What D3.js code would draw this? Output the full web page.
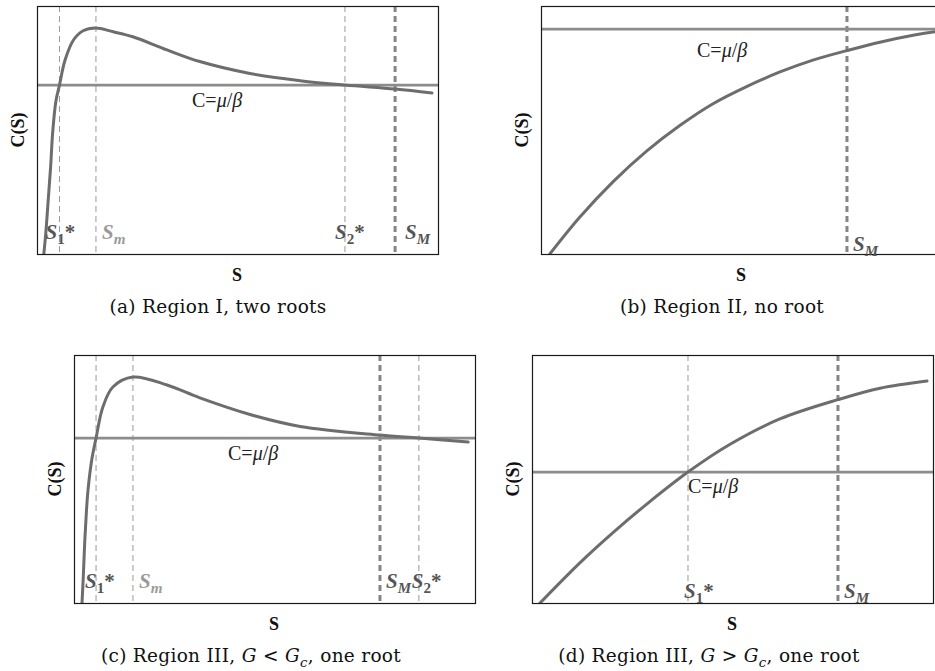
<!DOCTYPE html>
<html>
<head>
<meta charset="utf-8">
<script src="https://cdn.jsdelivr.net/npm/d3@7"></script>
<style>
  body { margin: 0; background: #fff; }
  text { font-family: "Liberation Serif", "Times New Roman", serif; }
  .caption { font-family: "DejaVu Serif", serif; letter-spacing: 0.3px; }
</style>
</head>
<body>
<svg id="chart" width="935" height="671"></svg>
<script>
// values, S and C both on a 0..100 scale of each frame
const curveA = [[1.7,0],[2.2,8.5],[2.8,21.8],[3.4,35.2],[3.9,48.8],[4.7,61.5],[5.6,68.1],[7.0,78.2],[9.1,86.3],[11.5,90.0],[14.6,91.1],[19.0,89.6],[23.9,87.6],[32.4,82.3],[40.6,77.6],[53.1,72.8],[65.6,69.9],[76.8,68.1],[89.3,66.5],[98.5,64.9]];
const curveB = [[2.2,0],[9.7,14.9],[18.0,29.2],[26.4,41.6],[34.7,51.9],[42.9,60.6],[51.4,67.6],[59.6,73.4],[67.8,78.2],[76.3,82.0],[84.5,85.4],[92.8,88.2],[98.3,89.6],[102,90.2]];
const curveC = [[2.0,0],[2.3,10],[2.7,25.4],[3.1,37],[3.5,45.6],[4.4,57.5],[5.5,66.5],[7.2,79.0],[9.7,87.1],[14.7,91.1],[23.2,87.9],[31.4,82.7],[43.9,76.0],[56.4,71.2],[76.3,67.7],[86.0,66.5],[98.3,64.9]];
const curveD = [[2.0,0],[12.0,16.3],[20.2,28.4],[28.7,40.0],[38.9,52.8],[49.4,64.0],[61.8,74.2],[76.3,82.0],[86.8,86.6],[98.5,89.5]];

// level C = mu/beta in each panel
const levels = [68.1, 90.7, 66.5, 52.8];

// vertical markers: S value and which label goes with it
const markersA = [{key:"S1", s:5.6}, {key:"Sm", s:14.7}, {key:"S2", s:76.8}, {key:"SM", s:89.3}];
const markersB = [{key:"SM", s:76.3}];
const markersC = [{key:"S1", s:5.5}, {key:"Sm", s:14.7}, {key:"SM", s:76.3}, {key:"S2", s:86.0}];
const markersD = [{key:"S1", s:38.9}, {key:"SM", s:76.3}];

const captions = [
    [{t:"(a) Region I, two roots"}],
    [{t:"(b) Region II, no root"}],
    [{t:"(c) Region III, "}, {t:"G", it:true}, {t:" < "}, {t:"G", it:true}, {t:"c", it:true, sub:true}, {t:", one root"}],
    [{t:"(d) Region III, "}, {t:"G", it:true}, {t:" > "}, {t:"G", it:true}, {t:"c", it:true, sub:true}, {t:", one root"}]
];

// label glyphs for markers
const markerText = {
    S1: [{t:"S", it:true}, {t:"1", sub:true}, {t:"*"}],
    S2: [{t:"S", it:true}, {t:"2", sub:true}, {t:"*"}],
    Sm: [{t:"S", it:true}, {t:"m", it:true, sub:true}],
    SM: [{t:"S", it:true}, {t:"M", it:true, sub:true}]
};

// layout of the four frames
const panels = [
    {curve: curveA, level: levels[0], markers: markersA, caption: captions[0],
     x0: 37, y0: 6, w: 401, h: 248, capX: 218, labelX: 192, labelDy: 22, markerBase: 15,
     offsets: {S1: -14, Sm: 6, S2: -10, SM: 10}},
    {curve: curveB, level: levels[1], markers: markersB, caption: captions[1],
     x0: 541, y0: 6, w: 401, h: 248, capX: 722, labelX: 697, labelDy: 28, markerBase: 3,
     offsets: {SM: 6}},
    {curve: curveC, level: levels[2], markers: markersC, caption: captions[2],
     x0: 74, y0: 355, w: 401, h: 248, capX: 251, labelX: 228, labelDy: 22, markerBase: 15,
     offsets: {S1: -11, Sm: 6, SM: 6, S2: -7}},
    {curve: curveD, level: levels[3], markers: markersD, caption: captions[3],
     x0: 532, y0: 355, w: 401, h: 248, capX: 709, labelX: 688, labelDy: 21, markerBase: 5,
     offsets: {S1: -4, SM: 6}}
];

const svg = d3.select("#chart");

// writes a run of tspans, handling subscripts
const writeParts = (textSel, parts, size) => {
    let shift = 0;
    parts.forEach(p => {
        const ts = textSel.append("tspan").text(p.t);
        if (p.it) ts.attr("font-style", "italic");
        const target = p.sub ? size * 0.25 : 0;
        if (target !== shift) ts.attr("dy", target - shift);
        shift = target;
        if (p.sub) ts.attr("font-size", size * 0.72);
    });
};

panels.forEach((p, i) => {

    const g = svg.append("g");

    const x = d3.scaleLinear().domain([0, 100]).range([p.x0, p.x0 + p.w]);
    const y = d3.scaleLinear().domain([0, 100]).range([p.y0 + p.h, p.y0]);

    const clipId = "clip" + i;
    svg.append("clipPath").attr("id", clipId)
        .append("rect")
        .attr("x", p.x0).attr("y", p.y0)
        .attr("width", p.w).attr("height", p.h);

    const plot = g.append("g").attr("clip-path", `url(#${clipId})`);

    // vertical dashed markers
    p.markers.forEach(m => {
        const thick = m.key === "SM";
        plot.append("line")
            .attr("x1", x(m.s)).attr("x2", x(m.s))
            .attr("y1", p.y0).attr("y2", p.y0 + p.h)
            .attr("stroke", thick ? "#858585" : "#9a9a9a")
            .attr("stroke-width", thick ? 3 : 1)
            .attr("stroke-dasharray", "6,4");
    });

    // level C = mu/beta
    plot.append("line")
        .attr("x1", x(0)).attr("x2", x(100))
        .attr("y1", y(p.level)).attr("y2", y(p.level))
        .attr("stroke", "#8c8c8c")
        .attr("stroke-width", 2.8);

    // C(S) curve
    const line = d3.line()
        .x(d => x(d[0]))
        .y(d => y(d[1]))
        .curve(d3.curveCatmullRom.alpha(0.5));

    plot.append("path")
        .datum(p.curve)
        .attr("d", line)
        .attr("fill", "none")
        .attr("stroke", "#6d6d6d")
        .attr("stroke-width", 3)
        .attr("stroke-linecap", "round");

    // frame
    g.append("rect")
        .attr("x", p.x0 + 0.5).attr("y", p.y0 + 0.5)
        .attr("width", p.w).attr("height", p.h)
        .attr("fill", "none")
        .attr("stroke", "#1a1a1a")
        .attr("stroke-width", 1.2);

    // marker labels
    p.markers.forEach(m => {
        const t = g.append("text")
            .attr("x", x(m.s) + p.offsets[m.key])
            .attr("y", p.y0 + p.h - p.markerBase)
            .attr("font-size", 21)
            .attr("font-weight", "bold")
            .attr("fill", m.key === "Sm" ? "#9a9a9a" : "#555");
        writeParts(t, markerText[m.key], 21);
    });

    // level label
    g.append("text")
        .attr("x", p.labelX)
        .attr("y", y(p.level) + p.labelDy)
        .attr("font-size", 20)
        .attr("fill", "#222")
        .html('C=<tspan font-style="italic">μ</tspan>/<tspan font-style="italic">β</tspan>');

    // axis titles
    g.append("text")
        .attr("transform", `translate(${p.x0 - 13},${p.y0 + p.h / 2}) rotate(-90)`)
        .attr("text-anchor", "middle")
        .attr("font-size", 18)
        .attr("font-weight", "bold")
        .attr("fill", "#111")
        .text("C(S)");

    g.append("text")
        .attr("x", p.x0 + 200)
        .attr("y", p.y0 + p.h + 27)
        .attr("text-anchor", "middle")
        .attr("font-size", 18)
        .attr("font-weight", "bold")
        .attr("fill", "#111")
        .text("S");

    // caption
    const cap = g.append("text")
        .attr("class", "caption")
        .attr("x", p.capX)
        .attr("y", p.y0 + p.h + 59)
        .attr("text-anchor", "middle")
        .attr("font-size", 18.5)
        .attr("fill", "#111");
    writeParts(cap, p.caption, 18.5);
});
</script>
</body>
</html>
